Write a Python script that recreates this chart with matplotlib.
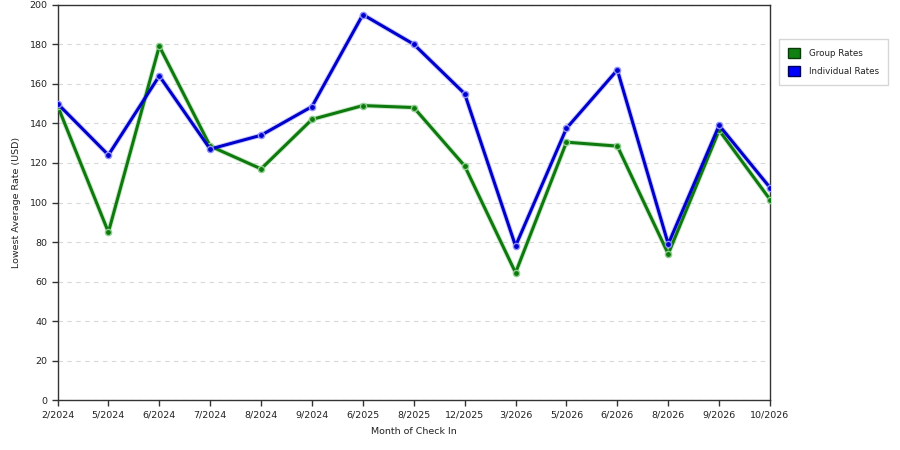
import matplotlib.pyplot as plt
from matplotlib.patches import Patch

months = ['2/2024', '5/2024', '6/2024', '7/2024', '8/2024', '9/2024', '6/2025', '8/2025',
          '12/2025', '3/2026', '5/2026', '6/2026', '8/2026', '9/2026', '10/2026']
group_rates = [149, 85, 179, 128.5, 117, 142, 149, 148, 118.5, 64.5, 130.5, 128.5, 74, 136.5, 101.5]
individual_rates = [150, 124, 164, 127, 134, 148.5, 195, 180, 155, 78, 137.5, 167, 79, 139, 107.5]

green = '#0e7a0e'
blue = '#0000cc'

fig = plt.figure(figsize=(9, 4.5), dpi=100)
ax = fig.add_axes([0.0639, 0.1104, 0.7917, 0.8792])

x = list(range(len(months)))

# soft halo under the lines, then the lines with markers
for vals, col, light in [(group_rates, green, '#8fcf8f'), (individual_rates, blue, '#9090ff')]:
    ax.plot(x, vals, color=light, lw=3.6, alpha=0.45, zorder=2, solid_capstyle='round')
    ax.plot(x, vals, color=col, lw=2.2, zorder=3, marker='o', markersize=4.5,
            markerfacecolor=col, markeredgecolor=light, markeredgewidth=1)

ax.set_xlim(0, len(months) - 1)
ax.set_ylim(0, 200)
ax.set_xticks(x)
ax.set_xticklabels(months)
ax.set_yticks(range(0, 201, 20))
ax.tick_params(axis='both', labelsize=6.8, length=4, width=1, color='#333333',
               labelcolor='#222222', pad=3)
ax.grid(axis='y', linestyle=(0, (4, 4)), color='#d8d8d8', lw=0.8)
ax.set_axisbelow(True)
for s in ax.spines.values():
    s.set_color('#333333')
    s.set_linewidth(1)

ax.set_xlabel('Month of Check In', fontsize=6.8, labelpad=6, color='#222222')
ax.set_ylabel('Lowest Average Rate (USD)', fontsize=6.8, labelpad=6, color='#222222')

handles = [Patch(facecolor='#108010', edgecolor='#0a3a0a', label='Group Rates'),
           Patch(facecolor='#0000ff', edgecolor='#00005a', label='Individual Rates')]
leg = fig.legend(handles=handles, loc='upper left', bbox_to_anchor=(779 / 900, 1 - 39 / 450),
                 borderaxespad=0, fontsize=6.3, frameon=True, fancybox=False,
                 handlelength=1.4, handleheight=1.4, borderpad=1.0, labelspacing=0.9,
                 handletextpad=1.0)
leg.get_frame().set_edgecolor('#cccccc')
leg.get_frame().set_linewidth(1)
for t in leg.get_texts():
    t.set_color('#222222')

plt.savefig('out.png', dpi=100)
